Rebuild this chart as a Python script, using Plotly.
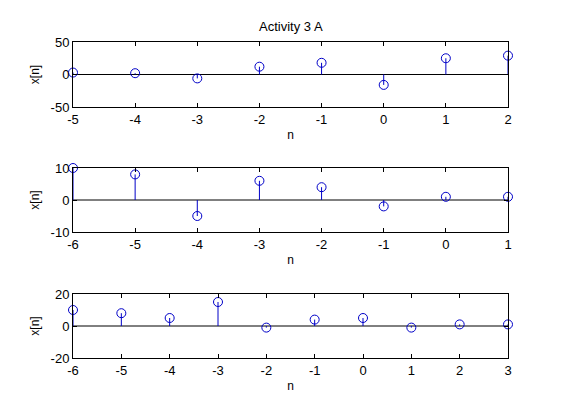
import plotly.graph_objects as go

# Data
n1 = [-5, -4, -3, -2, -1, 0, 1, 2]
x1 = [3, 2, -6, 12, 18, -16, 25, 29]
n2 = [-6, -5, -4, -3, -2, -1, 0, 1]
x2 = [10, 8, -5, 6, 4, -2, 1, 1]
n3 = [-6, -5, -4, -3, -2, -1, 0, 1, 2, 3]
x3 = [10, 8, 5, 15, -1, 4, 5, -1, 1, 1]

panels = [(n1, x1, [-50, 50], [-50, 0, 50]),
          (n2, x2, [-10, 10], [-10, 0, 10]),
          (n3, x3, [-20, 20], [-20, 0, 20])]

W, H = 561, 420
xdom = [73 / W, 508 / W]
ydoms = [[1 - 107 / H, 1 - 42 / H], [1 - 232 / H, 1 - 168 / H], [1 - 358 / H, 1 - 294 / H]]

BLUE = "#0000c8"
FONT = "Liberation Sans, Arial, sans-serif"

fig = go.Figure()
layout = dict(width=W, height=H, margin=dict(l=0, r=0, t=0, b=0, autoexpand=False),
              paper_bgcolor="white", plot_bgcolor="white", showlegend=False,
              font=dict(family=FONT, size=12, color="black"))
shapes = []
for i, (n, x, yr, yt) in enumerate(panels):
    k = "" if i == 0 else str(i + 1)
    xa, ya = "x" + k, "y" + k
    sx, sy = [], []
    for a, b in zip(n, x):
        sx += [a, a, None]
        sy += [0, b, None]
    fig.add_trace(go.Scatter(x=sx, y=sy, mode="lines", line=dict(color=BLUE, width=1),
                             xaxis=xa, yaxis=ya, hoverinfo="skip"))
    fig.add_trace(go.Scatter(x=n, y=x, mode="markers",
                             marker=dict(symbol="circle-open", size=9, color=BLUE,
                                         line=dict(width=1, color=BLUE)),
                             xaxis=xa, yaxis=ya, cliponaxis=False))
    shapes.append(dict(type="line", xref=xa + " domain", yref=ya, x0=0, x1=1, y0=0, y1=0,
                       line=dict(color="black", width=1), layer="below"))
    layout["xaxis" + k] = dict(domain=xdom, range=[min(n), max(n)], anchor=ya,
                               tickmode="array", tickvals=n, ticktext=[str(v) for v in n],
                               ticks="inside", ticklen=4, tickcolor="black",
                               showline=True, linecolor="black", linewidth=1, mirror="ticks",
                               showgrid=False, zeroline=False, automargin=False,
                               title=dict(text="n", standoff=5, font=dict(size=12)),
                               tickfont=dict(size=13))
    layout["yaxis" + k] = dict(domain=ydoms[i], range=yr, anchor=xa,
                               tickmode="array", tickvals=yt, ticktext=[str(v) for v in yt],
                               ticks="inside", ticklen=4, tickcolor="black",
                               showline=True, linecolor="black", linewidth=1, mirror="ticks",
                               showgrid=False, zeroline=False, automargin=False,
                               title=dict(text="x[n]", standoff=8, font=dict(size=12)),
                               tickfont=dict(size=13))
layout["shapes"] = shapes
layout["annotations"] = [dict(text="Activity 3 A", xref="paper", yref="paper",
                              x=(xdom[0] + xdom[1]) / 2, y=1 - 27 / H, showarrow=False,
                              font=dict(size=13), xanchor="center", yanchor="middle")]
fig.update_layout(**layout)
fig.write_html("out.html")
